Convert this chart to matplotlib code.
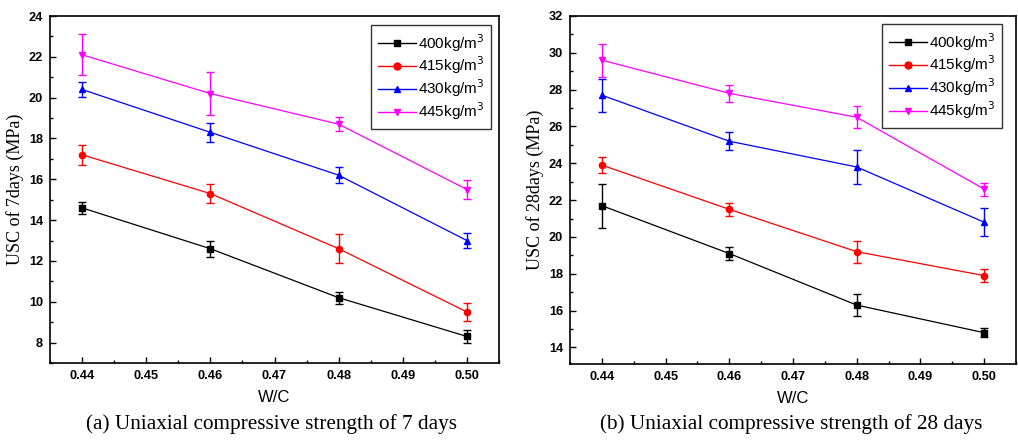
import matplotlib
matplotlib.use("Agg")
import matplotlib.pyplot as plt
from matplotlib.ticker import MultipleLocator
from matplotlib.lines import Line2D

wc = [0.44, 0.46, 0.48, 0.50]
labels = ["400kg/m$^3$", "415kg/m$^3$", "430kg/m$^3$", "445kg/m$^3$"]
colors = ["black", "red", "blue", "magenta"]
markers = ["s", "o", "^", "v"]

d7_400 = [14.6, 12.6, 10.2, 8.3]
d7_415 = [17.2, 15.3, 12.6, 9.5]
d7_430 = [20.4, 18.3, 16.2, 13.0]
d7_445 = [22.1, 20.2, 18.7, 15.5]
e7_400 = [0.3, 0.4, 0.3, 0.3]
e7_415 = [0.5, 0.45, 0.7, 0.45]
e7_430 = [0.35, 0.45, 0.4, 0.35]
e7_445 = [1.0, 1.05, 0.35, 0.45]

d28_400 = [21.7, 19.1, 16.3, 14.8]
d28_415 = [23.9, 21.5, 19.2, 17.9]
d28_430 = [27.7, 25.2, 23.8, 20.8]
d28_445 = [29.6, 27.8, 26.5, 22.6]
e28_400 = [1.2, 0.35, 0.6, 0.25]
e28_415 = [0.45, 0.35, 0.6, 0.35]
e28_430 = [0.9, 0.5, 0.9, 0.75]
e28_445 = [0.9, 0.45, 0.6, 0.35]

fig = plt.figure(figsize=(10.18, 4.41), dpi=100)
W, H = 1018, 441

def make_ax(x0, x1, y0, y1):
    return fig.add_axes([x0 / W, 1 - y1 / H, (x1 - x0) / W, (y1 - y0) / H])

def style(ax, ylim, ylabel, caption, cap_x, leg_anchor):
    ax.set_xlim(0.435, 0.505)
    ax.set_ylim(*ylim)
    ax.yaxis.set_major_locator(MultipleLocator(2))
    ax.yaxis.set_minor_locator(MultipleLocator(1))
    ax.set_xticks([0.44, 0.45, 0.46, 0.47, 0.48, 0.49, 0.50])
    ax.set_xticklabels(["0.44", "0.45", "0.46", "0.47", "0.48", "0.49", "0.50"])
    ax.xaxis.set_minor_locator(MultipleLocator(0.005))
    ax.tick_params(which="both", direction="in", top=False, right=False)
    ax.tick_params(which="major", length=4, width=1, pad=5)
    ax.tick_params(which="minor", length=2.5, width=1)
    for lab in ax.get_xticklabels() + ax.get_yticklabels():
        lab.set_fontfamily("Liberation Sans")
        lab.set_fontweight("bold")
        lab.set_fontsize(9.2)
    for s in ax.spines.values():
        s.set_linewidth(1.2)
    ax.set_xlabel("W/C", family="Liberation Sans", size=12)
    ax.xaxis.set_label_coords(0.5, -0.078)
    ax.set_ylabel(ylabel, family="Liberation Serif", size=13)
    ax.yaxis.set_label_coords(-0.058, 0.5)
    fig.text(cap_x / W, 1 - 424 / H, caption, ha="center", va="center",
             family="Liberation Serif", size=15.3)
    handles = [Line2D([], [], color=c, marker=m, markersize=5, lw=1) for c, m in zip(colors, markers)]
    leg = ax.legend(handles, labels, loc="upper right", bbox_to_anchor=leg_anchor, frameon=True,
                    fancybox=False, edgecolor="black", prop=dict(family="Liberation Sans", size=11),
                    handlelength=2.5, handletextpad=0.1, labelspacing=0.07, borderpad=0.45,
                    borderaxespad=0.0)
    leg.get_frame().set_linewidth(1.0)

ax1 = make_ax(50, 499, 16, 363)
for y, e, c, m in zip([d7_400, d7_415, d7_430, d7_445], [e7_400, e7_415, e7_430, e7_445],
                      colors, markers):
    ax1.errorbar(wc, y, yerr=e, color=c, marker=m, markersize=4.5, lw=0.9,
                 elinewidth=1, capsize=3, capthick=1)
style(ax1, (7, 24), "USC of 7days (MPa)", "(a) Uniaxial compressive strength of 7 days", 272,
      (0.982, 0.974))

ax2 = make_ax(570, 1016, 16, 364)
for y, e, c, m in zip([d28_400, d28_415, d28_430, d28_445], [e28_400, e28_415, e28_430, e28_445],
                      colors, markers):
    ax2.errorbar(wc, y, yerr=e, color=c, marker=m, markersize=4.5, lw=0.9,
                 elinewidth=1, capsize=3, capthick=1)
style(ax2, (13.1, 32), "USC of 28days (MPa)", "(b) Uniaxial compressive strength of 28 days", 791,
      (0.969, 0.977))

fig.savefig("out.png", dpi=100)
